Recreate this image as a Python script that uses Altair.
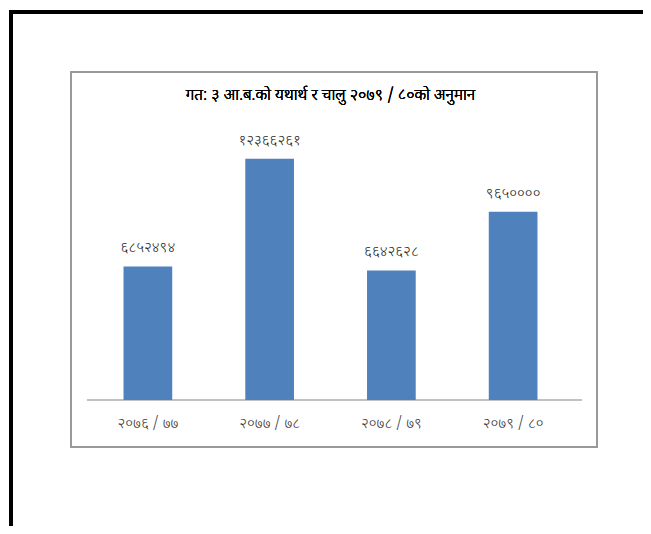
import altair as alt
import pandas as pd

categories = ["२०७६ / ७७", "२०७७ / ७८", "२०७८ / ७९", "२०७९ / ८०"]
values = [6852494, 12366261, 6642628, 9650000]
value_labels = ["६८५२४९४", "१२३६६२६१", "६६४२६२८", "९६५००००"]
title_text = "गत: ३ आ.ब.को यथार्थ र चालु  २०७९ / ८०को  अनुमान"

df = pd.DataFrame({"cat": categories, "val": values, "lab": value_labels})

FONT = "Noto Sans Devanagari, Noto Sans"
W, H = 487, 273

x = alt.X("cat:N", sort=categories,
          scale=alt.Scale(paddingInner=0.6, paddingOuter=0.3),
          axis=alt.Axis(title=None, labelAngle=0, ticks=False, domain=False,
                        labelFont=FONT, labelFontSize=15, labelColor="#333333",
                        labelFontWeight=300, labelPadding=15))
y = alt.Y("val:Q", scale=alt.Scale(domain=[0, 14000000]), axis=None)

base = alt.Chart(df)

bars = base.mark_bar(color="#4F81BD").encode(x=x, y=y)
labels = base.mark_text(font=FONT, fontSize=15, fontWeight=300, color="#222222",
                        baseline="middle", dy=-19).encode(x=x, y=y, text="lab:N")

baseline = base.mark_rule(color="#c0c0c0", strokeWidth=1.5).encode(
    x=alt.value(0), x2=alt.value(495), y=alt.value(H))

inner_box = base.mark_rect(fill=None, stroke="#999999", strokeWidth=1.5).encode(
    x=alt.value(-16), x2=alt.value(510), y=alt.value(-55), y2=alt.value(320))

outer_top = base.mark_rule(color="black", strokeWidth=4).encode(
    x=alt.value(-78), x2=alt.value(620), y=alt.value(-115))
outer_left = base.mark_rule(color="black", strokeWidth=4).encode(
    x=alt.value(-76), y=alt.value(-117), y2=alt.value(450))

title = base.mark_text(font=FONT, fontSize=16, fontWeight=300, color="black").encode(
    x=alt.value(W / 2), y=alt.value(-32), text=alt.value(title_text))

chart = alt.layer(inner_box, outer_top, outer_left, baseline, bars, labels, title).properties(
    width=W, height=H,
    autosize=alt.AutoSizeParams(type="none"),
    padding={"left": 79, "top": 119, "right": 69, "bottom": 126},
    background="white",
).configure_view(stroke=None)

chart.save("out.html", embed_options={"renderer": "svg", "actions": False})
